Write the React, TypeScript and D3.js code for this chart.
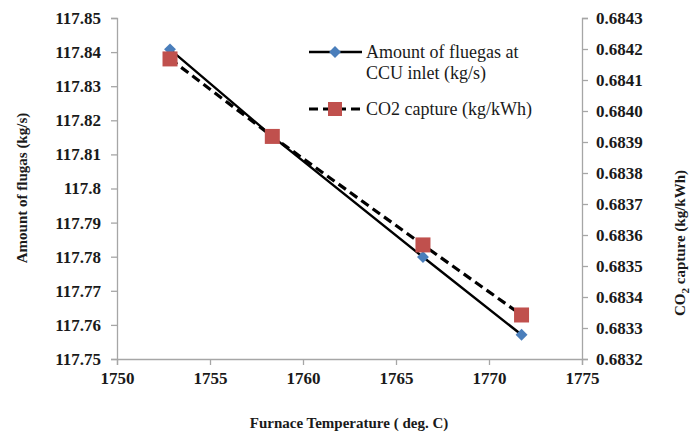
import React, { useRef, useEffect } from 'react';
import * as d3 from 'd3';

// furnace temperature (deg. C)
const temps = [1752.85, 1758.35, 1766.45, 1771.75];
// amount of fluegas at CCU inlet (kg/s)
const fluegas = [117.8408, 117.8153, 117.7799, 117.7571];
// CO2 capture (kg/kWh)
const co2 = [0.684168, 0.683918, 0.683568, 0.683342];

const xTicks = [1750, 1755, 1760, 1765, 1770, 1775];
const leftTicks = [117.75, 117.76, 117.77, 117.78, 117.79, 117.8, 117.81, 117.82, 117.83, 117.84, 117.85];
const rightTicks = [0.6832, 0.6833, 0.6834, 0.6835, 0.6836, 0.6837, 0.6838, 0.6839, 0.684, 0.6841, 0.6842, 0.6843];

const App = () => {
    const svgRef = useRef<SVGSVGElement>(null);

    useEffect(() => {
        document.body.style.margin = '0';

        const width = 691;
        const height = 435;
        const margin = { top: 18, right: 109, bottom: 76, left: 117 };
        const font = 'Liberation Serif, Times New Roman, serif';
        const axisColor = '#a6a6a6';

        const root = d3.select(svgRef.current);
        root.selectAll('*').remove();
        root.attr('width', width).attr('height', height)
            .style('display', 'block')
            .style('background', '#fff');

        const x = d3.scaleLinear().domain([1750, 1775]).range([margin.left, width - margin.right]);
        const yL = d3.scaleLinear().domain([117.75, 117.85]).range([height - margin.bottom, margin.top]);
        const yR = d3.scaleLinear().domain([0.6832, 0.6843]).range([height - margin.bottom, margin.top]);

        const styleAxis = (g: any) => {
            g.attr('font-family', font);
            g.select('.domain').attr('stroke', axisColor).attr('stroke-width', 1.3);
            g.selectAll('.tick line').attr('stroke', axisColor).attr('stroke-width', 1.3);
            g.selectAll('.tick text')
                .attr('fill', '#1a1a1a')
                .style('font-family', font)
                .style('font-size', '17px')
                .style('font-weight', 'bold');
        };

        root.append('g')
            .attr('transform', `translate(0,${height - margin.bottom})`)
            .call(d3.axisBottom(x).tickValues(xTicks).tickFormat(d3.format('d')).tickSizeOuter(0).tickSize(6).tickPadding(7))
            .call(styleAxis);

        root.append('g')
            .attr('transform', `translate(${margin.left},0)`)
            .call(d3.axisLeft(yL).tickValues(leftTicks).tickFormat((d: any) => String(+d.toFixed(2))).tickSizeOuter(0).tickSize(6).tickPadding(10))
            .call(styleAxis);

        root.append('g')
            .attr('transform', `translate(${width - margin.right},0)`)
            .call(d3.axisRight(yR).tickValues(rightTicks).tickFormat(d3.format('.4f')).tickSizeOuter(0).tickSize(6).tickPadding(8))
            .call(styleAxis);

        const lineL = d3.line<number>().x((_, i) => x(temps[i])).y(d => yL(d));
        const lineR = d3.line<number>().x((_, i) => x(temps[i])).y(d => yR(d));

        root.append('path').datum(co2)
            .attr('fill', 'none').attr('stroke', '#000').attr('stroke-width', 3.2)
            .attr('stroke-dasharray', '9,5')
            .attr('d', lineR);

        root.append('path').datum(fluegas)
            .attr('fill', 'none').attr('stroke', '#000').attr('stroke-width', 2.4)
            .attr('d', lineL);

        const diamond = d3.symbol().type(d3.symbolDiamond2 ?? d3.symbolDiamond).size(90);

        root.append('g').selectAll('path').data(fluegas).join('path')
            .attr('d', diamond)
            .attr('transform', (d, i) => `translate(${x(temps[i])},${yL(d)})`)
            .attr('fill', '#4a7ebb');

        root.append('g').selectAll('rect').data(co2).join('rect')
            .attr('x', (_, i) => x(temps[i]) - 7.5)
            .attr('y', d => yR(d) - 7.5)
            .attr('width', 15).attr('height', 15)
            .attr('fill', '#c0504d');

        // legend
        const lg = root.append('g');
        lg.append('line').attr('x1', 309).attr('x2', 362).attr('y1', 52).attr('y2', 52)
            .attr('stroke', '#000').attr('stroke-width', 2.4);
        lg.append('path').attr('d', diamond).attr('transform', 'translate(335,52)').attr('fill', '#4a7ebb');
        lg.append('line').attr('x1', 309).attr('x2', 362).attr('y1', 109).attr('y2', 109)
            .attr('stroke', '#000').attr('stroke-width', 3.2).attr('stroke-dasharray', '9,5');
        lg.append('rect').attr('x', 328).attr('y', 102).attr('width', 14).attr('height', 14).attr('fill', '#c0504d');

        const legendText = (t: string, yy: number) => lg.append('text')
            .attr('x', 366).attr('y', yy)
            .attr('fill', '#1a1a1a')
            .style('font-family', font).style('font-size', '18px')
            .text(t);
        legendText('Amount of fluegas at', 58);
        legendText('CCU inlet (kg/s)', 79);
        legendText('CO2 capture (kg/kWh)', 115);

        // axis titles
        const title = (g: any) => g
            .attr('fill', '#1a1a1a')
            .style('font-family', font).style('font-size', '15px').style('font-weight', 'bold')
            .attr('text-anchor', 'middle');

        root.append('text')
            .attr('transform', 'translate(27,188) rotate(-90)')
            .call(title)
            .text('Amount of flugas (kg/s)');

        const rt = root.append('text')
            .attr('transform', 'translate(685,243) rotate(-90)')
            .call(title);
        rt.append('tspan').text('CO');
        rt.append('tspan').attr('dy', 4).style('font-size', '11px').text('2');
        rt.append('tspan').attr('dy', -4).text(' capture (kg/kWh)');

        root.append('text')
            .attr('x', 349).attr('y', 428)
            .call(title)
            .text('Furnace Temperature ( deg. C)');
    }, []);

    return <svg ref={svgRef}></svg>;
};

export default App;
